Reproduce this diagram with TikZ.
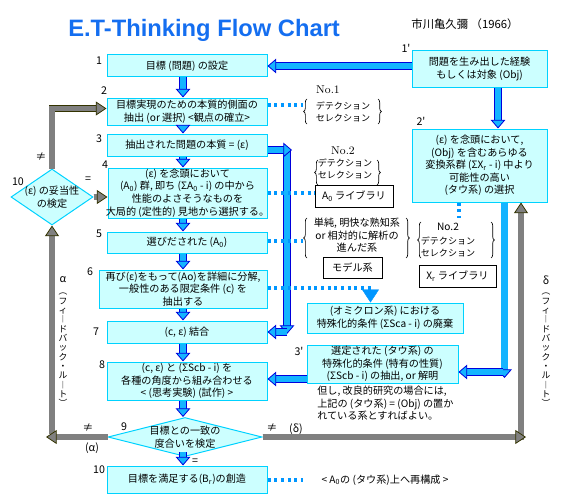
\documentclass[tikz,border=0pt]{standalone}
\usepackage{fontspec}
\newfontfamily\jp{Noto Sans CJK JP}
\newfontfamily\ttl{Liberation Sans}
\usetikzlibrary{arrows.meta,shapes.geometric,decorations.pathreplacing,calc}
\definecolor{boxfill}{RGB}{204,255,255}
\definecolor{boxline}{RGB}{0,210,255}
\definecolor{afill}{RGB}{20,180,255}
\definecolor{aline}{RGB}{0,0,220}
\definecolor{gfill}{RGB}{128,128,128}
\definecolor{gline}{RGB}{51,51,0}
\definecolor{dotc}{RGB}{0,150,255}
\definecolor{ttlc}{RGB}{20,110,240}
\begin{document}
\begin{tikzpicture}[x=0.75pt,y=-0.75pt,
  txt/.style={font={\jp\fontsize{7.6pt}{9.4pt}\selectfont}, align=center, inner sep=0pt},
  sml/.style={font={\jp\fontsize{6.8pt}{9pt}\selectfont}, align=center, inner sep=0pt},
  sz/.style 2 args={minimum width=#1*0.75pt, minimum height=#2*0.75pt},
  box/.style={txt, draw=boxline, fill=boxfill, line width=0.75pt},
  wbox/.style={txt, draw=black, fill=white, line width=0.6pt},
  dia/.style={diamond, draw=boxline, fill=boxfill, line width=0.75pt, inner sep=0pt},
  num/.style={font={\jp\fontsize{8pt}{9pt}\selectfont}, inner sep=0pt},
  serif/.style={font={\fontsize{8.5pt}{10pt}\selectfont}, inner sep=0pt},
  barrow/.style={draw=aline, line width=0.6pt, double=afill, double distance=4.6pt,
     -{Triangle[length=6.5pt,width=11pt,line width=0.6pt,fill=afill]}},
  garrow/.style={draw=gline, line width=0.6pt, double=gfill, double distance=4pt,
     -{Triangle[length=8pt,width=10.5pt,line width=0.6pt,fill=gfill]}},
  dotline/.style={draw=dotc, line width=2.4pt, dash pattern=on 2.4pt off 2.6pt},
  brc/.style={draw=black, decorate, decoration={brace, amplitude=2.5pt}, line width=0.5pt},
  vt/.style={font={\jp\fontsize{6.6pt}{7pt}\selectfont}, align=center, inner sep=0pt, anchor=north},
]
\useasboundingbox (0,0) rectangle (567,503);

% title
\node[font={\ttl\bfseries\fontsize{17.8pt}{20pt}\selectfont}, text=ttlc, anchor=base west, inner sep=0pt] (title) at (68,37) {E.T-Thinking Flow Chart};
\node[font={\jp\fontsize{8.5pt}{10pt}\selectfont}, inner sep=0pt] (auth) at (465,24) {市川亀久彌 （1966）};

% main column
\node[box, sz={160}{22}] (b1) at (187,66) {目標 (問題) の設定};
\node[box, sz={135}{36}] (b1p) at (479.5,69) {問題を生み出した経験\\もしくは対象 (Obj)};
\node[box, sz={160}{27}] (b2) at (187,111.5) {目標実現のための本質的側面の\\抽出 (or 選択) <観点の確立>};
\node[box, sz={160}{22}] (b3) at (187,145) {抽出された問題の本質 = (ε)};
\node[box, sz={159}{50}] (b4) at (187.5,193) {(ε) を念頭において\\(A\textsubscript{0}) 群, 即ち (ΣA\textsubscript{0} - i) の中から\\性能のよさそうなものを\\\makebox[0pt]{大局的 (定性的) 見地から選択する。}};
\node[box, sz={160}{21}] (b5) at (187,242.5) {選びだされた (A\textsubscript{0})};
\node[box, sz={168}{38}] (b6) at (183,289) {再び(ε)をもって(Ao)を詳細に分解,\\一般性のある限定条件 (c) を\\抽出する};
\node[box, sz={160}{22}] (b7) at (187,332) {(c, ε) 結合};
\node[box, sz={160}{38}] (b8) at (187,381) {(c, ε) と (ΣScb - i) を\\各種の角度から組み合わせる\\< (思考実験) (試作) >};
\node[dia, sz={154}{39}] (d9) at (185,437) {};
\node[txt] (d9t) at (d9.center) {目標との一致の\\度合いを検定};
\node[box, sz={160}{27}] (b10) at (187,479.5) {目標を満足する(B\textsubscript{r})の創造};
\node[dia, sz={82}{56}] (d10) at (52,197) {};
\node[txt] (d10t) at (d10.center) {(ε) の妥当性\\の検定};

% right column
\node[box, sz={135}{73}] (b2p) at (479.5,165.5) {(ε) を念頭において,\\(Obj) を含むあらゆる\\変換系群 (ΣX\textsubscript{r} - i) 中より\\可能性の高い\\(タウ系) の選択};
\node[box, sz={156}{30}] (bom) at (385,318) {(オミクロン系) における\\特殊化的条件 (ΣSca - i) の廃棄};
\node[box, sz={151}{38}] (b3p) at (382.5,364) {選定された (タウ系) の\\特殊化的条件 (特有の性質)\\(ΣScb - i) の抽出, or 解明};
\node[txt, align=left, anchor=north west] (note) at (317,386) {但し, 改良的研究の場合には,\\上記の (タウ系) = (Obj) の置か\\れている系とすればよい。};
\node[wbox, sz={78}{22}] (liba) at (354,196) {A\textsubscript{0} ライブラリ};
\node[wbox, sz={59}{21}] (model) at (352.5,267.5) {モデル系};
\node[wbox, sz={77}{22}] (libx) at (457.5,276) {X\textsubscript{r} ライブラリ};

% side groups
\node[serif] (no1) at (328,90) {No.1};
\node[sml] (g1) at (343,112) {デテクション\\セレクション};
\draw[brc] (307,124) -- (307,99);
\draw[brc] (378,99) -- (378,124);
\node[serif] (no2a) at (343,151) {No.2};
\node[sml] (g2) at (345,169) {デテクション\\セレクション};
\draw[brc] (318,185) -- (318,160);
\draw[brc] (377,160) -- (377,185);
\node[txt] (g3) at (357,235.5) {単純, 明快な熟知系\\or 相対的に解析の\\進んだ系};
\draw[brc] (307,258) -- (307,218);
\draw[brc] (406,218) -- (406,258);
\node[font={\jp\fontsize{7.6pt}{9pt}\selectfont}, inner sep=0pt] (no2b) at (448,227) {No.2};
\node[sml] (g4) at (448,246.5) {デテクション\\セレクション};
\draw[brc] (421,258) -- (421,222);
\draw[brc] (491,222) -- (491,258);
\node[txt] (recon) at (385,480) {< A\textsubscript{0}の (タウ系)上へ再構成 >};

% numbers
\node[num] (n1) at (99,61) {1};
\node[num] (n2) at (104,91) {2};
\node[num] (n3) at (99,139) {3};
\node[num] (n4) at (105,165) {4};
\node[num] (n5) at (99,234) {5};
\node[num] (n6) at (90,272) {6};
\node[num] (n7) at (96,332) {7};
\node[num] (n8) at (102,365) {8};
\node[num] (n9) at (124,427) {9};
\node[num] (n10) at (99,470) {10};
\node[num] (n10b) at (18,182) {10};
\node[num] (n1p) at (406,48) {1'};
\node[num] (n2p) at (421,121) {2'};
\node[num] (n3p) at (299,351) {3'};

% relation labels
\node[num] (ne1) at (41,157) {≠};
\node[num] (eq1) at (88,180) {=};
\node[num] (ne2) at (88,428) {≠};
\node[num] (al2) at (92,448) {(α)};
\node[num] (eq2) at (195,462) {=};
\node[num] (ne3) at (272,428) {≠};
\node[num] (de2) at (296,429) {(δ)};
\node[num] (al1) at (63,280) {α};
\node[vt] (vl) at (63,293) {︵\\フ\\ィ\\︱\\ド\\バ\\ッ\\ク\\・\\ル\\︱\\ト\\︶};
\node[num] (de1) at (546,280) {δ};
\node[vt] (vr) at (546,293) {︵\\フ\\ィ\\︱\\ド\\バ\\ッ\\ク\\・\\ル\\︱\\ト\\︶};

% coordinates
\coordinate (ax) at (183,0);
\coordinate (bx) at (498,0);
\coordinate (c3a) at (292,150);
\coordinate (c3b) at (287,150);
\coordinate (c3c) at (287,334);
\coordinate (c7) at (287,332);
\coordinate (c2pa) at (504.5,0);
\coordinate (c2pb) at (504.5,378);
\coordinate (c3pr) at (503,372);
\coordinate (c8) at (0,379);
\coordinate (cl) at (46,437);
\coordinate (clv) at (52,434);
\coordinate (cr) at (526,437);
\coordinate (crv) at (521,440);
\coordinate (d2e) at (303,105);
\coordinate (d5e) at (303,241);
\coordinate (d10e) at (303,480);
\coordinate (tri) at (370.5,288);
\coordinate (d2p) at (459,218);

% blue arrows
\draw[barrow] (b1p.west |- b1.east) -- (b1.east);
\draw[barrow] (b1p.south -| bx) -- (b2p.north -| bx);
\draw[barrow] (b1.south -| ax) -- (b2.north -| ax);
\draw[barrow] (b2.south -| ax) -- (b3.north -| ax);
\draw[barrow] (b3.south -| ax) -- (b4.north -| ax);
\draw[barrow] (b4.south -| ax) -- (b5.north -| ax);
\draw[barrow] (b5.south -| ax) -- (b6.north -| ax);
\draw[barrow] (b6.south -| ax) -- (b7.north -| ax);
\draw[barrow] (b7.south -| ax) -- (b8.north -| ax);
\draw[barrow] (b8.south -| ax) -- (d9.north -| ax);
\draw[barrow] ($(d9.south -| ax)+(0,-5)$) -- (b10.north -| ax);
\draw[barrow] (c3b) -- (c3c);
\draw[barrow] (b3.east |- c3a) -- (c3a);
\draw[barrow] (c7) -- (b7.east |- c7);
\draw[barrow] (b2p.south -| c2pa) -- (c2pb);
\draw[barrow] (c3pr) -- (b3p.east |- c3pr);
\draw[barrow] (b3p.west |- c8) -- (b8.east |- c8);

% gray feedback arrows
\draw[garrow] (clv) -- (d10.south);
\draw[garrow] (d9.west) -- (d9.west -| cl);
\draw[garrow] (crv) -- (b2p.south -| crv);
\draw[garrow] (d9.east) -- (d9.east -| cr);
\draw[garrow] (d10.north) |- ($(b2.west)+(0,-3)$);
\draw[garrow] (d10.east) -- (d10.east -| b4.west);

% dotted links
\draw[dotline] (b2.east |- d2e) -- (d2e);
\draw[dotline] (b4.east) -- (b4.east -| liba.west);
\draw[dotline] (b5.east |- d5e) -- (d5e);
\draw[dotline] (b6.east |- tri) -- (tri);
\draw[dotc, line width=0.3pt, -{Triangle[length=9.75pt,width=12.75pt]}] ($(tri)+(0,2)$) -- (tri |- bom.north);
\draw[dotline] (b2p.south -| d2p) -- (d2p);
\draw[dotline] (b10.east |- d10e) -- (d10e);
\end{tikzpicture}
\end{document}
